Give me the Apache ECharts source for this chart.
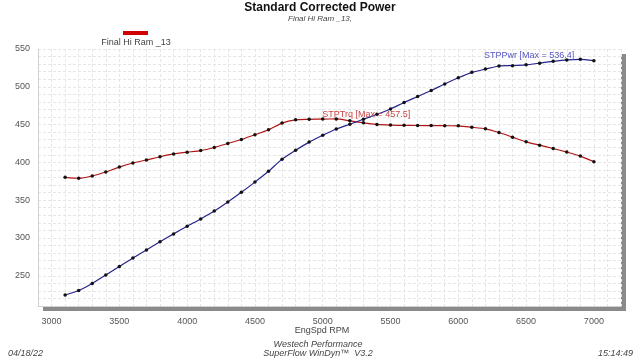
<!DOCTYPE html>
<html><head><meta charset="utf-8">
<script src="https://cdn.jsdelivr.net/npm/echarts@6/dist/echarts.min.js"></script>
<style>html,body{margin:0;padding:0;background:#fff}#c{width:640px;height:358px}</style>
</head><body><div id="c"></div>
<script>
const rpm = [3100,3200,3300,3400,3500,3600,3700,3800,3900,4000,4100,4200,4300,4400,4500,4600,4700,4800,4900,5000,
             5100,5200,5300,5400,5500,5600,5700,5800,5900,6000,6100,6200,6300,6400,6500,6600,6700,6800,6900,7000];
const torque = [380.2,379.0,382.0,387.3,393.8,399.2,403.2,407.5,411.2,413.5,415.6,419.7,425.0,430.3,436.5,443.1,452.0,456.3,456.9,457.3,
                457.5,455.0,452.3,450.2,449.3,449.0,448.8,448.7,448.5,448.3,446.5,444.4,439.5,433.4,427.2,422.8,418.4,413.6,408.3,400.8];
const power = [224.5,230.5,239.8,251.0,262.2,273.6,284.2,295.0,305.4,315.5,325.2,335.6,347.7,360.4,373.9,388.2,404.3,416.0,426.8,435.8,
               444.2,450.5,457.0,463.6,470.6,479.2,487.1,495.1,503.8,511.9,519.1,523.4,527.5,528.0,529.0,531.3,533.7,535.6,536.4,534.5];
const xTickLabels = [3000,3500,4000,4500,5000,5500,6000,6500,7000];
const yTickLabels = [250,300,350,400,450,500,550];
const runName = 'Final Hi Ram _13';
const xAxisName = 'EngSpd RPM';

const font = '"Liberation Sans", Arial, sans-serif';
const chart = echarts.init(document.getElementById('c'), null, {renderer: 'canvas'});
const mk = (arr) => rpm.map((r, i) => [r, arr[i]]);
const txt = (text, x, y, f, fill, align) => ({type: 'text', x: x, y: y,
  style: {text: text, font: f, fill: fill, align: align || 'center', verticalAlign: 'middle'}});
const frameLine = {show: true, lineStyle: {color: '#d0d0d0', width: 1}};

chart.setOption({
  animation: false,
  backgroundColor: '#fff',
  textStyle: {fontFamily: font},
  graphic: [
    txt('Standard Corrected Power', 320, 8, 'bold 12px ' + font, '#111'),
    txt('Final Hi Ram _13,', 320, 19, 'italic 8px ' + font, '#444'),
    {type: 'rect', shape: {x: 123, y: 31, width: 25, height: 4}, style: {fill: '#d00000'}},
    txt(runName, 136, 43, '9px ' + font, '#444'),
    txt(xAxisName, 322, 331, '9px ' + font, '#444'),
    txt('Westech Performance', 318, 344, 'italic 9px ' + font, '#444'),
    txt('SuperFlow WinDyn\u2122  V3.2', 318, 353, 'italic 9px ' + font, '#444'),
    txt('04/18/22', 8, 353, 'italic 9px ' + font, '#444', 'left'),
    txt('15:14:49', 633, 353, 'italic 9px ' + font, '#444', 'right')
  ],
  grid: {
    left: 38, right: 19, top: 49, bottom: 52, show: true,
    backgroundColor: '#fff', borderWidth: 0,
    shadowColor: '#8a8a8a', shadowOffsetX: 5, shadowOffsetY: 5, shadowBlur: 0
  },
  xAxis: {
    type: 'value', min: 2900, max: 7200, interval: 100,
    axisLine: frameLine, axisTick: {show: false},
    axisLabel: {fontSize: 9, color: '#555', margin: 11,
      formatter: v => xTickLabels.includes(v) ? String(v) : ''},
    splitLine: {show: true, lineStyle: {color: '#e6e6e6', type: [3, 2], width: 1}}
  },
  yAxis: {
    type: 'value', min: 210, max: 550, interval: 10,
    axisLine: frameLine, axisTick: {show: false},
    axisLabel: {fontSize: 9, color: '#555', margin: 8,
      formatter: v => yTickLabels.includes(v) ? String(v) : ''},
    splitLine: {show: true, lineStyle: {color: '#e6e6e6', type: [3, 2], width: 1}}
  },
  series: [
    {
      name: 'STPTrq', type: 'line', data: mk(torque), smooth: 0.2,
      symbol: 'circle', symbolSize: 3.5,
      lineStyle: {color: '#b01515', width: 1.2}, itemStyle: {color: '#111'},
      markPoint: {
        symbol: 'circle', symbolSize: 0,
        data: [{type: 'max'}],
        label: {show: true, position: [-14, -4], align: 'left', verticalAlign: 'middle',
          fontSize: 9, color: '#c84545', fontFamily: font,
          formatter: p => 'STPTrq [Max = ' + Number(p.value).toFixed(1) + ']'}
      }
    },
    {
      name: 'STPPwr', type: 'line', data: mk(power), smooth: 0.2,
      symbol: 'circle', symbolSize: 3.5,
      lineStyle: {color: '#24248c', width: 1.2}, itemStyle: {color: '#111'},
      markPoint: {
        symbol: 'circle', symbolSize: 0,
        data: [{type: 'max'}],
        label: {show: true, position: [-6, -4], align: 'right', verticalAlign: 'middle',
          fontSize: 9, color: '#5555c8', fontFamily: font,
          formatter: p => 'STPPwr [Max = ' + Number(p.value).toFixed(1) + ']'}
      }
    }
  ]
});
</script></body></html>
